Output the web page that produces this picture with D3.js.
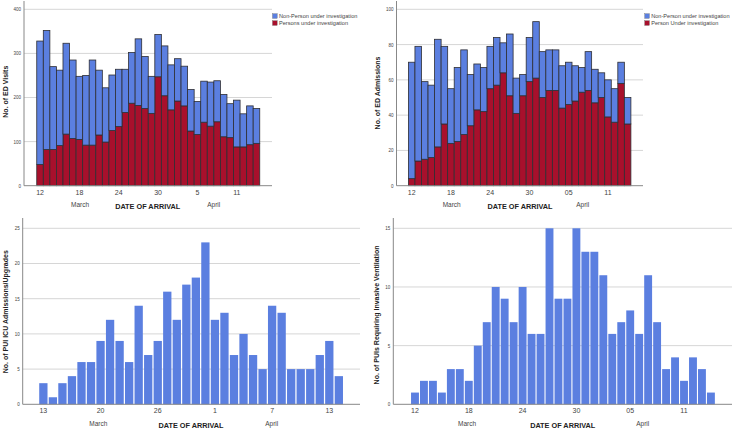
<!DOCTYPE html>
<html>
<head>
<meta charset="utf-8">
<script src="https://cdn.jsdelivr.net/npm/d3@7"></script>
<style>
  html, body { margin: 0; padding: 0; background: #fff; }
  svg { display: block; font-family: "Liberation Sans", Arial, sans-serif; }
</style>
</head>
<body>
<svg id="chart" width="736" height="433"></svg>
<script>
// ---------- DATA ----------
const daysA = ["Mar 12","Mar 13","Mar 14","Mar 15","Mar 16","Mar 17","Mar 18","Mar 19","Mar 20","Mar 21",
  "Mar 22","Mar 23","Mar 24","Mar 25","Mar 26","Mar 27","Mar 28","Mar 29","Mar 30","Mar 31",
  "Apr 1","Apr 2","Apr 3","Apr 4","Apr 5","Apr 6","Apr 7","Apr 8","Apr 9","Apr 10",
  "Apr 11","Apr 12","Apr 13","Apr 14"];
const daysB = ["Mar 14","Mar 15","Mar 16","Mar 17","Mar 18","Mar 19","Mar 20","Mar 21",
  "Mar 22","Mar 23","Mar 24","Mar 25","Mar 26","Mar 27","Mar 28","Mar 29","Mar 30","Mar 31",
  "Apr 1","Apr 2","Apr 3","Apr 4","Apr 5","Apr 6","Apr 7","Apr 8","Apr 9","Apr 10",
  "Apr 11","Apr 12","Apr 13","Apr 14"];

// Panel 1: ED visits
const visitsTotal = [328,352,270,262,323,285,248,250,285,262,222,251,264,264,302,333,293,248,343,317,
  274,288,271,218,191,237,235,238,207,186,194,163,181,175];
const visitsPUI = [48,82,82,91,117,107,105,92,92,115,99,125,134,166,187,182,175,164,247,204,
  172,192,181,124,116,144,135,145,111,109,88,88,93,96];

// Panel 2: ED admissions
const admTotal = [70,79,59,57,83,79,55,67,77,63,69,67,79,84,81,86,61,63,84,93,
  76,77,77,68,70,68,67,76,66,64,60,55,70,50];
const admPUI = [4,14,15,16,22,35,24,25,29,34,43,42,55,57,64,51,41,51,59,61,
  50,54,54,44,46,48,53,54,47,50,39,36,58,35];

// Panel 3: PUI ICU admissions/upgrades (Mar 14 - Apr 14)
const icuPUI = [3,1,3,4,6,6,9,12,9,6,14,7,9,16,12,17,18,23,12,13,7,10,7,5,14,13,5,5,5,7,9,4];

// Panel 4: PUIs requiring invasive ventilation
const ventPUI = [1,2,2,1,3,3,2,5,7,10,9,7,10,6,6,15,9,9,15,13,13,11,6,7,8,6,11,7,3,4,2,4,3,1];

// Tick labels
const ticksA = ["Mar 12","Mar 18","Mar 24","Mar 30","Apr 5","Apr 11"];
const tickLabelsA1 = ["12","18","24","30","5","11"];
const tickLabelsA2 = ["12","18","24","30","05","11"];
const ticksB = ["Mar 14","Mar 20","Mar 26","Apr 1","Apr 7","Apr 13"];
const tickLabelsB = ["13","20","26","1","7","13"];

const legend1 = ["Non-Person under investigation","Persons under investigation"];
const legend2 = ["Non-Person under investigation","Person Under investigation"];

// ---------- STYLE ----------
const BLUE = "#5b7fe0";
const RED = "#a8102c";
const svg = d3.select("#chart");

function panel(cfg) {
  const g = svg.append("g");
  const x = d3.scaleBand().domain(cfg.days).range(cfg.band).paddingInner(cfg.pad).paddingOuter(cfg.pad / 2);
  const y = d3.scaleLinear().domain([0, cfg.yMax]).range([cfg.yZero, cfg.yTopVal]);

  // gridlines
  g.append("g").selectAll("line").data(cfg.yTicks.filter(d => d > 0)).join("line")
    .attr("x1", cfg.axisX).attr("x2", cfg.right)
    .attr("y1", d => y(d)).attr("y2", d => y(d))
    .attr("stroke", "#d6d6d6").attr("stroke-width", 1);

  // bars
  if (cfg.stack) {
    const rows = cfg.days.map((d, i) => ({ day: d, pui: cfg.pui[i], non: cfg.total[i] - cfg.pui[i] }));
    const series = d3.stack().keys(["pui", "non"])(rows);
    const colors = { pui: RED, non: BLUE };
    g.append("g").selectAll("g").data(series).join("g")
      .attr("fill", s => colors[s.key])
      .selectAll("rect").data(s => s).join("rect")
      .attr("x", d => x(d.data.day)).attr("width", x.bandwidth())
      .attr("y", d => y(d[1])).attr("height", d => y(d[0]) - y(d[1]))
      .attr("stroke", "#2e2e33").attr("stroke-width", 0.8);
  } else {
    g.append("g").selectAll("rect").data(cfg.days.map((d, i) => ({ day: d, v: cfg.values[i] }))).join("rect")
      .attr("x", d => x(d.day)).attr("width", x.bandwidth())
      .attr("y", d => y(d.v)).attr("height", d => cfg.yZero - y(d.v))
      .attr("fill", BLUE);
  }

  // y axis
  g.append("line").attr("x1", cfg.axisX).attr("x2", cfg.axisX)
    .attr("y1", cfg.axisTop).attr("y2", cfg.yZero).attr("stroke", "#888").attr("stroke-width", 1);
  const ya = g.append("g").attr("transform", `translate(${cfg.axisX},0)`)
    .call(d3.axisLeft(y).tickValues(cfg.yTicks).tickSize(0).tickPadding(3).tickFormat(d3.format("d")));
  ya.select(".domain").remove();
  ya.selectAll("text").attr("font-size", 4.5).attr("fill", "#444").attr("font-family", "Liberation Sans, Arial, sans-serif");

  // x axis
  const xa = g.append("g").attr("transform", `translate(0,${cfg.yZero})`)
    .call(d3.axisBottom(x).tickValues(cfg.ticks).tickSize(0).tickPadding(4)
      .tickFormat((d) => cfg.tickLabels[cfg.ticks.indexOf(d)]));
  xa.select(".domain").remove();
  xa.selectAll("text").attr("font-size", 7).attr("fill", "#444").attr("font-family", "Liberation Sans, Arial, sans-serif");
  g.append("line").attr("x1", cfg.axisX).attr("x2", cfg.right)
    .attr("y1", cfg.yZero).attr("y2", cfg.yZero).attr("stroke", "#888").attr("stroke-width", 1);

  // month labels and x title
  g.append("text").attr("x", cfg.marchX).attr("y", cfg.monthY).attr("text-anchor", "middle")
    .attr("font-size", 6.5).attr("fill", "#444").text("March");
  g.append("text").attr("x", cfg.aprilX).attr("y", cfg.monthY).attr("text-anchor", "middle")
    .attr("font-size", 6.5).attr("fill", "#444").text("April");
  g.append("text").attr("x", cfg.titleX).attr("y", cfg.monthY + 2).attr("text-anchor", "middle")
    .attr("font-size", 7.3).attr("font-weight", "bold").attr("fill", "#222").text("DATE OF ARRIVAL");

  // y title
  g.append("text").attr("transform", `translate(${cfg.yTitleX},${cfg.yTitleY}) rotate(-90)`)
    .attr("text-anchor", "middle").attr("font-size", 7).attr("font-weight", "bold").attr("fill", "#222")
    .text(cfg.yTitle);

  // legend
  if (cfg.legend) {
    const lg = g.append("g").attr("transform", `translate(${cfg.legendX},${cfg.legendY})`);
    const cols = [BLUE, RED];
    cfg.legend.forEach((t, i) => {
      lg.append("rect").attr("x", 0).attr("y", i * 7).attr("width", 4.7).attr("height", 4.7)
        .attr("fill", cols[i]).attr("stroke", "#555").attr("stroke-width", 0.3);
      lg.append("text").attr("x", 6.5).attr("y", i * 7 + 4.5).attr("font-size", 5.6).attr("fill", "#444").text(t);
    });
  }
}

panel({
  days: daysA, stack: true, total: visitsTotal, pui: visitsPUI,
  band: [36.75, 259.75], pad: 0, axisX: 24, right: 272, axisTop: 1,
  yMax: 400, yZero: 185.7, yTopVal: 9.3, yTicks: [0, 100, 200, 300, 400],
  ticks: ticksA, tickLabels: tickLabelsA1,
  marchX: 80, aprilX: 213.7, titleX: 147.7, monthY: 207,
  yTitle: "No. of ED Visits", yTitleX: 7.5, yTitleY: 91.7,
  legend: legend1, legendX: 272.5, legendY: 13.7
});

panel({
  days: daysA, stack: true, total: admTotal, pui: admPUI,
  band: [408.4, 630.9], pad: 0, axisX: 396.5, right: 643, axisTop: 1,
  yMax: 100, yZero: 185.7, yTopVal: 9.3, yTicks: [0, 20, 40, 60, 80, 100],
  ticks: ticksA, tickLabels: tickLabelsA2,
  marchX: 451.7, aprilX: 582.7, titleX: 520, monthY: 207,
  yTitle: "No. of ED Admissions", yTitleX: 379.5, yTitleY: 93,
  legend: legend2, legendX: 644.7, legendY: 13.7
});

panel({
  days: daysB, stack: false, values: icuPUI,
  band: [38.6, 343.6], pad: 0.13, axisX: 22.7, right: 360, axisTop: 218,
  yMax: 25, yZero: 404.3, yTopVal: 228.3, yTicks: [0, 5, 10, 15, 20, 25],
  ticks: ticksB, tickLabels: tickLabelsB,
  marchX: 98.3, aprilX: 271.7, titleX: 191, monthY: 426,
  yTitle: "No. of PUI ICU Admissions/Upgrades", yTitleX: 7.5, yTitleY: 311.7
});

panel({
  days: daysA, stack: false, values: ventPUI,
  band: [410.5, 715.4], pad: 0.12, axisX: 393.3, right: 732, axisTop: 218,
  yMax: 15, yZero: 404.3, yTopVal: 228.3, yTicks: [0, 5, 10, 15],
  ticks: ticksA, tickLabels: tickLabelsA2,
  marchX: 467, aprilX: 642.7, titleX: 562.7, monthY: 426,
  yTitle: "No. of PUIs Requiring Invasive Ventilation", yTitleX: 378.5, yTitleY: 315
});
</script>
</body>
</html>
